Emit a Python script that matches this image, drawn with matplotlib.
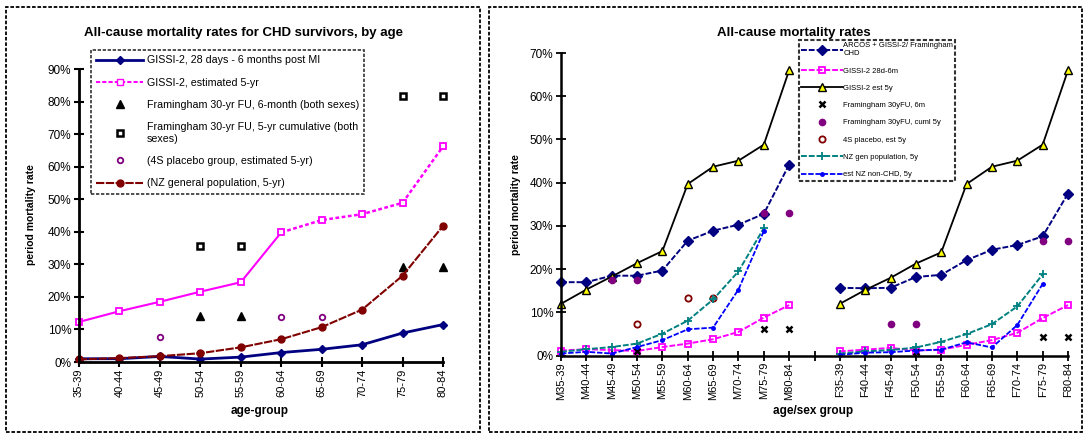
import matplotlib
matplotlib.use('Agg')
import matplotlib.pyplot as plt
from matplotlib.patches import Rectangle
from matplotlib.ticker import PercentFormatter
import numpy as np

plt.rcParams['font.family'] = ['Liberation Sans', 'DejaVu Sans']

nan = np.nan

# ---- left chart data (percent) ----
age_groups = ['35-39', '40-44', '45-49', '50-54', '55-59',
              '60-64', '65-69', '70-74', '75-79', '80-84']
gissi_6m = [1.0, 1.0, 1.7, 0.9, 1.5, 2.9, 3.9, 5.3, 8.9, 11.5]
gissi_5y = [12.3, 15.6, 18.5, 21.6, 24.5, 39.8, 43.6, 45.4, 48.9, 66.2]
fram_6m = [nan, nan, nan, 14.0, 14.0, nan, nan, nan, 29.3, 29.3]
fram_5y = [nan, nan, nan, 35.7, 35.7, nan, nan, nan, 81.8, 81.8]
s4_5y = [nan, nan, 7.6, nan, nan, 13.7, 13.7, nan, nan, nan]
nz_gen = [0.8, 1.2, 1.8, 2.7, 4.5, 7.0, 10.7, 16.1, 26.5, 41.8]

# ---- right chart data (percent), male then female ----
male_groups = ['M' + a for a in age_groups]
female_groups = ['F' + a for a in age_groups]
arcos_m = [17.0, 17.0, 18.5, 18.5, 19.7, 26.6, 28.9, 30.3, 32.8, 44.2]
arcos_f = [15.7, 15.6, 15.7, 18.2, 18.7, 22.1, 24.5, 25.6, 27.6, 37.5]
g6m_m = [1.2, 1.5, 1.3, 1.1, 2.0, 2.8, 3.8, 5.5, 8.8, 11.7]
g6m_f = [1.0, 1.4, 1.8, 1.2, 1.4, 2.5, 3.6, 5.3, 8.7, 11.7]
g5y_m = [12.0, 15.3, 18.3, 21.4, 24.2, 39.7, 43.7, 45.1, 48.8, 66.0]
g5y_f = [12.0, 15.2, 18.0, 21.3, 23.9, 39.7, 43.7, 45.1, 48.8, 66.0]
f6m_m = [nan, nan, nan, 1.0, nan, nan, nan, nan, 6.1, 6.1]
f6m_f = [nan, nan, nan, 0.9, nan, nan, nan, nan, 4.4, 4.4]
f5y_m = [nan, nan, 17.4, 17.4, nan, nan, nan, nan, 32.9, 32.9]
f5y_f = [nan, nan, 7.3, 7.3, nan, nan, nan, nan, 26.6, 26.6]
s4_m = [nan, nan, nan, 7.4, nan, 13.4, 13.4, nan, nan, nan]
s4_f = [nan] * 10
nzgen_m = [0.9, 1.5, 2.0, 2.8, 5.1, 8.1, 13.0, 19.5, 29.5, nan]
nzgen_f = [0.5, 1.0, 1.3, 1.9, 3.2, 5.0, 7.3, 11.4, 18.8, nan]
nonchd_m = [0.5, 0.9, 0.5, 2.0, 3.6, 6.1, 6.5, 15.3, 28.8, nan]
nonchd_f = [0.2, 0.7, 0.8, 1.2, 1.4, 3.1, 1.9, 7.1, 16.6, nan]


def join(m, f):
    # male block, one empty slot, female block
    return list(m) + [nan] + list(f)


sex_groups = male_groups + [''] + female_groups

W, H = 1087, 436
fig = plt.figure(figsize=(W / 100, H / 100), dpi=100)

# dashed frames around each panel
for x0, x1 in [(6, 480), (489, 1082)]:
    fig.patches.append(Rectangle((x0 / W, 1 - 432 / H), (x1 - x0) / W, 425 / H,
                                 transform=fig.transFigure, fill=False,
                                 edgecolor='black', linewidth=1.3,
                                 linestyle=(0, (2, 1))))

# ================= left chart =================
ax1 = fig.add_axes([79 / W, 1 - 362 / H, 364 / W, 293 / H])
x = np.arange(len(age_groups))

l1, = ax1.plot(x, gissi_6m, color='#000080', marker='D', markersize=4.5,
               linewidth=2, label='GISSI-2, 28 days - 6 months post MI')
ax1.plot(x[:6], gissi_5y[:6], color='#FF00FF', linewidth=1.5)
ax1.plot(x[5:], gissi_5y[5:], color='#FF00FF', linewidth=1.8,
         linestyle=(0, (1.5, 1)))
ax1.plot(x, gissi_5y, linestyle='none', marker='s', markersize=5,
         markerfacecolor='white', markeredgecolor='#FF00FF', markeredgewidth=1.3)
l2 = ax1.plot([], [], color='#FF00FF', linestyle=(0, (2, 1)), marker='s',
              markersize=5, markerfacecolor='white', markeredgecolor='#FF00FF',
              label='GISSI-2, estimated 5-yr')[0]
l3, = ax1.plot(x, fram_6m, linestyle='none', marker='^', markersize=6,
               color='black', label='Framingham 30-yr FU, 6-month (both sexes)')
l4, = ax1.plot(x, fram_5y, linestyle='none', marker='s', markersize=5,
               markerfacecolor='white', markeredgecolor='black', markeredgewidth=1.8,
               label='Framingham 30-yr FU, 5-yr cumulative (both\nsexes)')
l5, = ax1.plot(x, s4_5y, linestyle='none', marker='o', markersize=4,
               markerfacecolor='white', markeredgecolor='#800080', markeredgewidth=1.3,
               label='(4S placebo group, estimated 5-yr)')
l6, = ax1.plot(x, nz_gen, color='#800000', marker='o', markersize=5,
               linewidth=1.5, linestyle=(0, (4, 0.7)),
               label='(NZ general population, 5-yr)')

ax1.set_xlim(0, 9)
ax1.set_ylim(0, 90)
ax1.set_yticks(np.arange(0, 91, 10))
ax1.yaxis.set_major_formatter(PercentFormatter(xmax=100, decimals=0))
ax1.set_xticks(x)
ax1.set_xticklabels(age_groups, rotation=90)
ax1.tick_params(direction='inout', length=7, width=1.5, labelsize=8.5, colors='black')
ax1.tick_params(axis='y', pad=2)
ax1.tick_params(axis='x', pad=1, labelsize=8)
for s in ['top', 'right']:
    ax1.spines[s].set_visible(False)
for s in ['left', 'bottom']:
    ax1.spines[s].set_linewidth(2)
for ln in ax1.lines:
    ln.set_clip_on(False)

leg1 = ax1.legend(handles=[l1, l2, l3, l4, l5, l6], loc='upper left',
                  bbox_to_anchor=(91 / W, 1 - 50 / H), bbox_transform=fig.transFigure,
                  fontsize=7.7, frameon=True, fancybox=False, handlelength=4.4,
                  labelspacing=1.15, borderpad=0.5, handletextpad=0.3,
                  borderaxespad=0)
leg1.get_frame().set_edgecolor('black')
leg1.get_frame().set_linewidth(1.2)
leg1.get_frame().set_linestyle((0, (2, 1)))

fig.text(244 / W, 1 - 33 / H, 'All-cause mortality rates for CHD survivors, by age',
         ha='center', va='center', fontsize=9.5, fontweight='bold')
fig.text(31 / W, 1 - 215 / H, 'period mortality rate', rotation=90,
         ha='center', va='center', fontsize=7.5, fontweight='bold')
fig.text(260 / W, 1 - 411 / H, 'age-group', ha='center', va='center',
         fontsize=8.5, fontweight='bold')

# ================= right chart =================
ax2 = fig.add_axes([561 / W, 1 - 355.7 / H, 507 / W, 302.7 / H])
xr = np.arange(len(sex_groups))
dash = (0, (3, 1))

r1, = ax2.plot(xr, join(arcos_m, arcos_f), color='#000080', marker='D',
               markersize=5, linewidth=1.4, linestyle=dash,
               label='ARCOS + GISSI-2/ Framingham\nCHD')
r2, = ax2.plot(xr, join(g6m_m, g6m_f), color='#FF00FF', marker='s', markersize=4.5,
               markerfacecolor='none', markeredgewidth=1.3, linewidth=1.4,
               linestyle=dash, label='GISSI-2 28d-6m')
r3, = ax2.plot(xr, join(g5y_m, g5y_f), color='black', marker='^', markersize=6,
               markerfacecolor='#FFFF00', markeredgecolor='black', linewidth=1.3,
               label='GISSI-2 est 5y')
r4, = ax2.plot(xr, join(f6m_m, f6m_f), linestyle='none', marker='x', markersize=4.5,
               markeredgewidth=1.8, color='black', label='Framingham 30yFU, 6m')
r5, = ax2.plot(xr, join(f5y_m, f5y_f), linestyle='none', marker='o', markersize=4.5,
               color='#800080', label='Framingham 30yFU, cuml 5y')
r6, = ax2.plot(xr, join(s4_m, s4_f), linestyle='none', marker='o', markersize=4.5,
               markerfacecolor='white', markeredgecolor='#800000', markeredgewidth=1.3,
               label='4S placebo, est 5y')
r7, = ax2.plot(xr, join(nzgen_m, nzgen_f), color='#008080', marker='+',
               markersize=6, markeredgewidth=1.3, linewidth=1.4, linestyle=dash,
               label='NZ gen population, 5y')
r8, = ax2.plot(xr, join(nonchd_m, nonchd_f), color='#0000FF', marker='o',
               markersize=2.5, linewidth=1.3, linestyle=dash,
               label='est NZ non-CHD, 5y')

ax2.set_xlim(0, 20)
ax2.set_ylim(0, 70)
ax2.set_yticks(np.arange(0, 71, 10))
ax2.yaxis.set_major_formatter(PercentFormatter(xmax=100, decimals=0))
ax2.set_xticks(xr)
ax2.set_xticklabels(sex_groups, rotation=90)
ax2.tick_params(direction='inout', length=7, width=1.3, labelsize=8.5, colors='black')
ax2.tick_params(axis='y', pad=2)
ax2.tick_params(axis='x', pad=1, labelsize=8)
for s in ['top', 'right']:
    ax2.spines[s].set_visible(False)
for s in ['left', 'bottom']:
    ax2.spines[s].set_linewidth(1.8)
    ax2.spines[s].set_linestyle((0, (2, 1)))
for ln in ax2.lines:
    ln.set_clip_on(False)

leg2 = ax2.legend(handles=[r1, r2, r3, r4, r5, r6, r7, r8], loc='upper left',
                  bbox_to_anchor=(799 / W, 1 - 40 / H), bbox_transform=fig.transFigure,
                  fontsize=5.5, frameon=True, fancybox=False, handlelength=5.4,
                  labelspacing=1.3, borderpad=0.3, handletextpad=0.1,
                  borderaxespad=0)
leg2.get_frame().set_edgecolor('black')
leg2.get_frame().set_linewidth(1.5)
leg2.get_frame().set_linestyle((0, (2, 1)))

fig.text(794 / W, 1 - 33 / H, 'All-cause mortality rates',
         ha='center', va='center', fontsize=9.5, fontweight='bold')
fig.text(516 / W, 1 - 205 / H, 'period mortality rate', rotation=90,
         ha='center', va='center', fontsize=7.5, fontweight='bold')
fig.text(813 / W, 1 - 411 / H, 'age/sex group', ha='center', va='center',
         fontsize=8.5, fontweight='bold')

fig.savefig('out.png', dpi=100)
